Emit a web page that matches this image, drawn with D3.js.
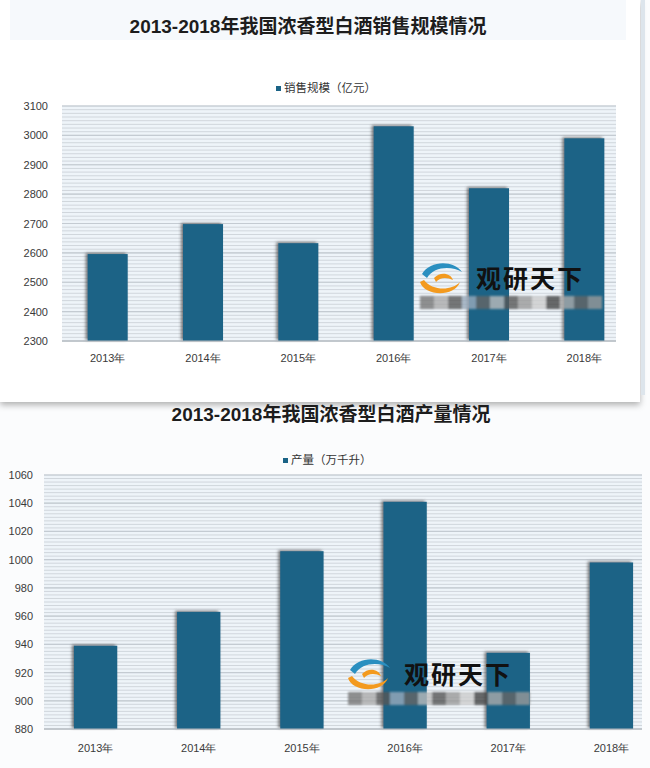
<!DOCTYPE html>
<html><head><meta charset="utf-8">
<script src="https://cdn.jsdelivr.net/npm/d3@7"></script>
<style>
body{margin:0;background:#fff;}
svg{display:block;font-family:"Liberation Sans","Noto Sans CJK SC",sans-serif;}
</style></head>
<body><svg id="c" width="650" height="768"></svg>
<script>
const years = ["2013年","2014年","2015年","2016年","2017年","2018年"];
const salesValues = [2596, 2698, 2633, 3031, 2820, 2990];
const salesTicks = [2300,2400,2500,2600,2700,2800,2900,3000,3100];
const outputValues = [939, 963, 1006, 1041, 934, 998];
const outputTicks = [880,900,920,940,960,980,1000,1020,1040,1060];

const svg = d3.select("#c");
const defs = svg.append("defs");
const f = defs.append("filter").attr("id","bs").attr("x","-30%").attr("y","-30%").attr("width","160%").attr("height","160%");
f.append("feDropShadow").attr("dx",-2).attr("dy",-1).attr("stdDeviation",1.6).attr("flood-color","#444").attr("flood-opacity",0.7);
const cs = defs.append("filter").attr("id","cs").attr("x","-5%").attr("y","-5%").attr("width","110%").attr("height","115%");
cs.append("feDropShadow").attr("dx",0).attr("dy",3).attr("stdDeviation",3).attr("flood-color","#000").attr("flood-opacity",0.3);
const bl = defs.append("filter").attr("id","bl");
bl.append("feGaussianBlur").attr("stdDeviation",1.2);

// page backgrounds
svg.append("rect").attr("x",0).attr("y",0).attr("width",650).attr("height",768).attr("fill","#fbfcfd");
svg.append("rect").attr("x",0).attr("y",0).attr("width",640).attr("height",402).attr("fill","#fff").attr("filter","url(#cs)");
svg.append("rect").attr("x",10).attr("y",0).attr("width",616).attr("height",40).attr("fill","#f6f9fc");
svg.append("rect").attr("x",641).attr("y",0).attr("width",4).attr("height",395).attr("fill","#dde5ec");

function chart(o){
  const g = svg.append("g");
  const y = d3.scaleLinear().domain(o.domain).range([o.bottom,o.top]);
  const x = d3.scaleBand().domain(years).range(o.xr).paddingInner(o.pad).paddingOuter(o.pad/2);
  g.append("text").attr("x",o.titleX).attr("y",o.titleY).attr("text-anchor","middle")
    .attr("font-size",19).attr("font-weight","bold").attr("fill","#1d1d1d").text(o.title);
  g.append("rect").attr("x",o.legX).attr("y",o.legY-6).attr("width",5).attr("height",5).attr("fill","#1a6386");
  g.append("text").attr("x",o.legX+8).attr("y",o.legY).attr("font-size",11.5).attr("fill","#333").text(o.legend);
  g.append("rect").attr("x",o.gx[0]).attr("y",o.top).attr("width",o.gx[1]-o.gx[0]).attr("height",o.bottom-o.top).attr("fill","#eef4f9");
  const minor = d3.range(o.domain[0], o.domain[1]+1e-6, o.minorStep);
  g.append("g").selectAll("line").data(minor).join("line")
    .attr("x1",o.gx[0]).attr("x2",o.gx[1]).attr("y1",d=>y(d)).attr("y2",d=>y(d))
    .attr("stroke","#d0d6dc").attr("stroke-width",1);
  g.append("g").selectAll("line").data(o.ticks).join("line")
    .attr("x1",o.gx[0]).attr("x2",o.gx[1]).attr("y1",d=>y(d)).attr("y2",d=>y(d))
    .attr("stroke","#c4cbd2").attr("stroke-width",1.2);
  const ya = d3.axisLeft(y).tickValues(o.ticks).tickFormat(d3.format("d")).tickSize(0).tickPadding(0);
  const yg = g.append("g").attr("transform",`translate(${o.yLabX},0)`).call(ya);
  yg.select(".domain").remove();
  yg.selectAll("text").attr("font-size",11).attr("fill","#3a3a3a").attr("font-family","Liberation Sans, sans-serif");
  g.append("g").selectAll("rect").data(o.values).join("rect")
    .attr("x",(d,i)=>x(years[i])).attr("width",x.bandwidth())
    .attr("y",d=>y(d)).attr("height",d=>o.bottom-y(d))
    .attr("fill","#1a6386").attr("filter","url(#bs)");
  g.append("line").attr("x1",o.gx[0]).attr("x2",o.gx[1]).attr("y1",o.bottom).attr("y2",o.bottom).attr("stroke","#b0b6bc");
  const xa = d3.axisBottom(x).tickSize(0).tickPadding(0);
  const xg = g.append("g").attr("transform",`translate(0,${o.xLabY})`).call(xa);
  xg.select(".domain").remove();
  xg.selectAll("text").attr("font-size",11).attr("fill","#3a3a3a").attr("dy",0);
  // watermark
  const w = g.append("g").attr("transform",`translate(${o.wm[0]},${o.wm[1]})`);
  w.append("path").attr("d","M2,8 C10,-6 34,-6 42,6 C32,0 14,0 7,12 Z").attr("fill","#2a8fc0");
  w.append("path").attr("d","M0,16 C4,30 34,32 40,16 C32,25 12,25 4,14 Z").attr("fill","#f39a1f");
  w.append("path").attr("d","M14,12 C20,5 31,7 33,14 C27,11 20,11 16,16 Z").attr("fill","#f39a1f");
  w.append("text").attr("x",56).attr("y",22).attr("font-size",25).attr("font-weight","bold")
    .attr("font-family","Noto Sans CJK SC").attr("fill","#111").attr("letter-spacing",2).text("观研天下");
  const blocks = [[0,"#777"],[14,"#aaa"],[28,"#555"],[42,"#9ab"],[56,"#666"],[70,"#bbb"],[84,"#555"],[98,"#999"],[112,"#ccc"],[126,"#444"],[140,"#aaa"],[154,"#666"],[168,"#999"]];
  w.append("g").attr("filter","url(#bl)").selectAll("rect").data(blocks).join("rect")
    .attr("x",d=>d[0]).attr("y",30).attr("width",14).attr("height",13).attr("fill",d=>d[1]).attr("opacity",0.8);
}

chart({title:"2013-2018年我国浓香型白酒销售规模情况", titleX:308, titleY:33,
  legend:"销售规模（亿元）", legX:276, legY:92,
  domain:[2300,3100], ticks:salesTicks, values:salesValues, minorStep:12.5,
  top:106, bottom:341, gx:[62,616], xr:[60,632], pad:0.58,
  yLabX:48, xLabY:362, wm:[420,266]});

chart({title:"2013-2018年我国浓香型白酒产量情况", titleX:331, titleY:421,
  legend:"产量（万千升）", legX:283, legY:464,
  domain:[880,1060], ticks:outputTicks, values:outputValues, minorStep:2.5,
  top:475, bottom:729, gx:[44,642], xr:[44,663], pad:0.58,
  yLabX:33, xLabY:752, wm:[348,662]});
</script></body></html>
